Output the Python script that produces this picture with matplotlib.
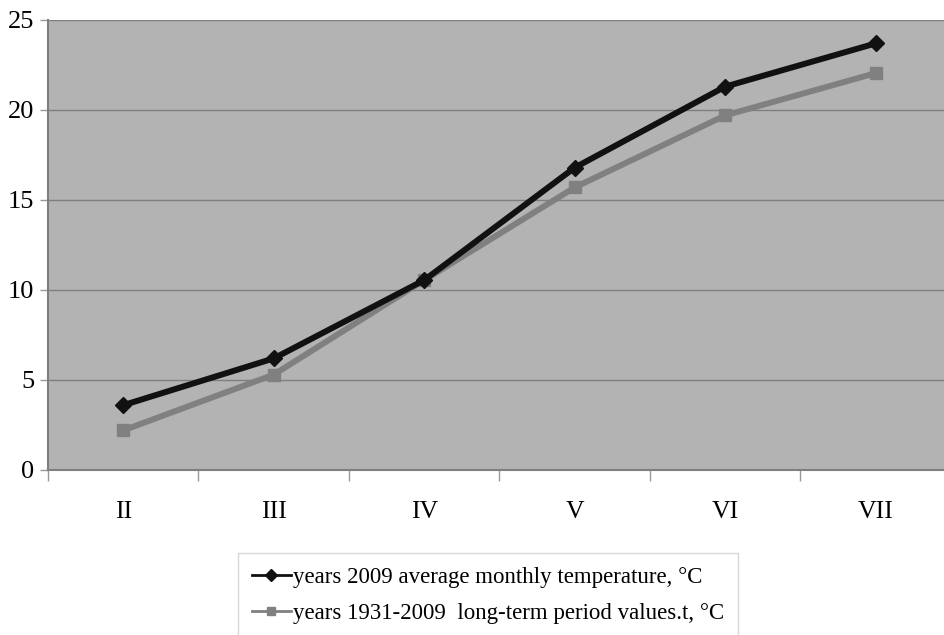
import matplotlib.pyplot as plt
from matplotlib.lines import Line2D

months = ['II', 'III', 'IV', 'V', 'VI', 'VII']
t_2009 = [3.6, 6.2, 10.55, 16.8, 21.3, 23.7]
t_long = [2.2, 5.3, 10.55, 15.7, 19.7, 22.05]
yticks = [0, 5, 10, 15, 20, 25]

plt.rcParams['font.family'] = ['Liberation Serif', 'DejaVu Serif']

fig = plt.figure(figsize=(9.45, 6.35), dpi=100)
ax = fig.add_axes([48 / 945, 1 - 470 / 635, 903 / 945, 450 / 635])
ax.set_facecolor('#b3b3b3')

x = list(range(len(months)))
ax.plot(x, t_long, color='#808080', lw=4.3, marker='s', ms=8, zorder=3)
ax.plot(x, t_2009, color='#111111', lw=4.3, marker='D', ms=8, zorder=4)

ax.set_xlim(-0.5, len(months) - 0.5)
ax.set_ylim(0, 25)
ax.set_yticks(yticks)
ax.set_yticklabels([str(v) for v in yticks], fontsize=19)
ax.set_xticks(x)
ax.set_xticklabels(months, fontsize=18.5)
ax.tick_params(axis='x', length=0, pad=22)
ax.set_xticks([i - 0.5 for i in range(len(months) + 1)], minor=True)
ax.tick_params(axis='x', which='minor', length=8, color='#999999', width=1)
ax.tick_params(axis='y', length=6, color='#999999', width=1, pad=4)
ax.yaxis.grid(True, color='#7f7f7f', lw=1)
ax.set_axisbelow(True)
for s in ['top', 'right']:
    ax.spines[s].set_visible(False)
for s in ['left', 'bottom']:
    ax.spines[s].set_color('#7f7f7f')
    ax.spines[s].set_linewidth(1.5)

handles = [
    Line2D([], [], color='#111111', lw=2, marker='D', ms=6),
    Line2D([], [], color='#808080', lw=2, marker='s', ms=6),
]
labels = ['years 2009 average monthly temperature, °C',
          'years 1931-2009  long-term period values.t, °C']
leg = fig.legend(handles, labels, loc='upper left',
                 bbox_to_anchor=(238 / 945, 1 - 553 / 635), fontsize=16.5,
                 frameon=True, fancybox=False, edgecolor='#cccccc',
                 handlelength=1.7, handletextpad=0.1, borderpad=0.6,
                 labelspacing=0.65, borderaxespad=0)

fig.savefig('out.png', dpi=100)
